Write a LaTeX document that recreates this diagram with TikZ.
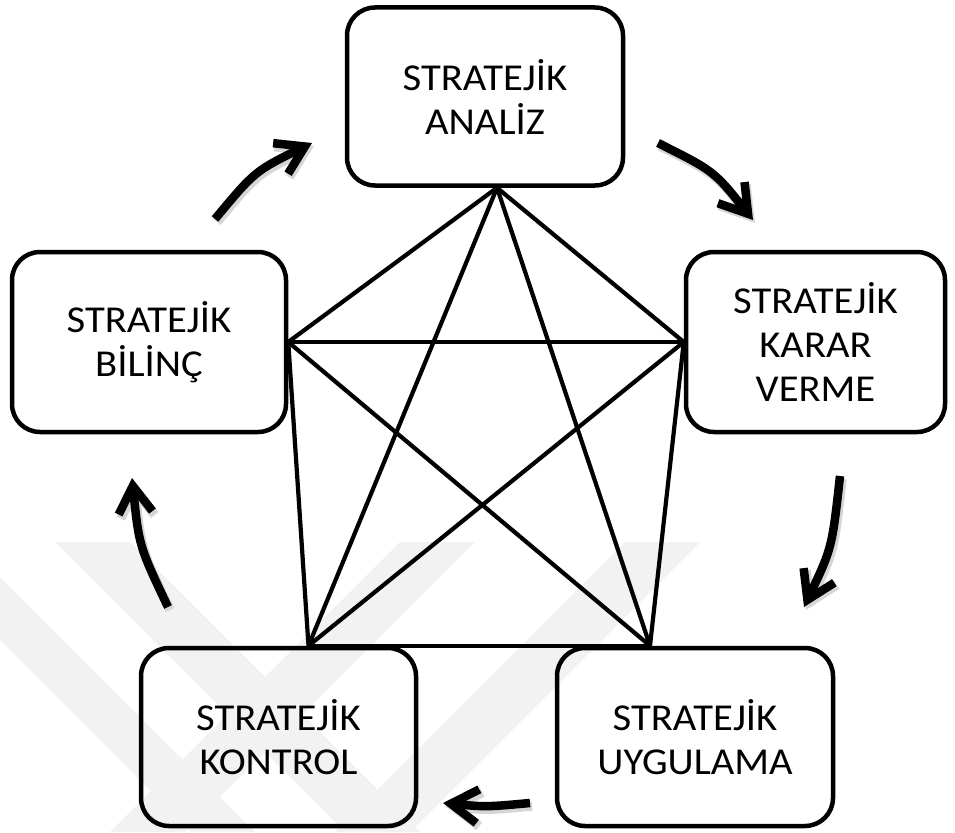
\documentclass[tikz,border=0pt]{standalone}
\usepackage{fontspec}
\setmainfont{Carlito}[FakeStretch=1.07]
\usetikzlibrary{arrows.meta}

\tikzset{
  stage/.style={draw, line width=4.5pt, rounded corners=28pt,
    minimum width=276pt, minimum height=178pt, inner sep=0pt,
    align=center, font=\fontsize{38}{44}\selectfont},
  link/.style={line width=4.2pt},
  flowtip/.style={-{Straight Barb[length=27pt,width=34pt]}},
  flow/.style={flowtip, line width=8.5pt},
  flowshade/.style={flowtip, line width=9.5pt, draw=black!16,
    transform canvas={shift={(2pt,-3pt)}}},
  wmband/.style={fill=black!5},
}

\begin{document}
\begin{tikzpicture}[x=1pt,y=-1pt]
\useasboundingbox (0,0) rectangle (955,832);
\fill[white] (0,0) rectangle (955,832);

% faint background emblem
\begin{scope}
  \clip (0,542) rectangle (955,832);
  \fill[wmband] (55,542) -- (130,542) -- (420,832) -- (345,832) -- cycle;
  \fill[wmband] (0,577) -- (255,832) -- (192,832) -- (0,640) -- cycle;
  \fill[wmband] (475,542) -- (400,542) -- (110,832) -- (185,832) -- cycle;
  \fill[wmband] (700,542) -- (625,542) -- (335,832) -- (410,832) -- cycle;
\end{scope}

% the five stages
\node[stage] (ana) at (485,96.5) {STRATEJİK\\ANALİZ};
\node[stage, minimum width=274pt, minimum height=180pt] (bil) at (149,342) {STRATEJİK\\BİLİNÇ};
\node[stage, minimum width=259pt, minimum height=180pt] (kar) at (815.5,342) {STRATEJİK\\KARAR\\VERME};
\node[stage, minimum width=275pt] (kon) at (278.5,737) {STRATEJİK\\KONTROL};
\node[stage] (uyg) at (695,737) {STRATEJİK\\UYGULAMA};

% corners of the pentagram
\coordinate (pA) at ([xshift=12pt]ana.south);
\coordinate (pB) at (bil.east);
\coordinate (pK) at (kar.west);
\coordinate (pL) at ([xshift=30pt]kon.north);
\coordinate (pU) at ([xshift=-45pt]uyg.north);

% every stage linked with every other
\draw[link] (pA) -- (pB);
\draw[link] (pA) -- (pK);
\draw[link] (pA) -- (pL);
\draw[link] (pA) -- (pU);
\draw[link] (pB) -- (pK);
\draw[link] (pB) -- (pL);
\draw[link] (pB) -- (pU);
\draw[link] (pK) -- (pL);
\draw[link] (pK) -- (pU);
\draw[link] (pL) -- (pU);

% ends of the cycle arrows
\coordinate (a1s) at (215,219);  \coordinate (a1c) at (255,171);  \coordinate (a1e) at (312,143);
\coordinate (a2s) at (658,143);  \coordinate (a2c) at (714,171);  \coordinate (a2e) at (753,220);
\coordinate (a3s) at (840,476);  \coordinate (a3c) at (832,548);  \coordinate (a3e) at (804,607);
\coordinate (a4s) at (530,803);  \coordinate (a4c) at (486,807);  \coordinate (a4e) at (443,803);
\coordinate (a5s) at (168,607);  \coordinate (a5c) at (139,546);  \coordinate (a5e) at (132,478);

% cycle arrows with their shadows
\foreach \i in {1,...,5} {
  \draw[flowshade] (a\i s) .. controls (a\i c) .. (a\i e);
}
\foreach \i in {1,...,5} {
  \draw[flow] (a\i s) .. controls (a\i c) .. (a\i e);
}
\end{tikzpicture}
\end{document}
